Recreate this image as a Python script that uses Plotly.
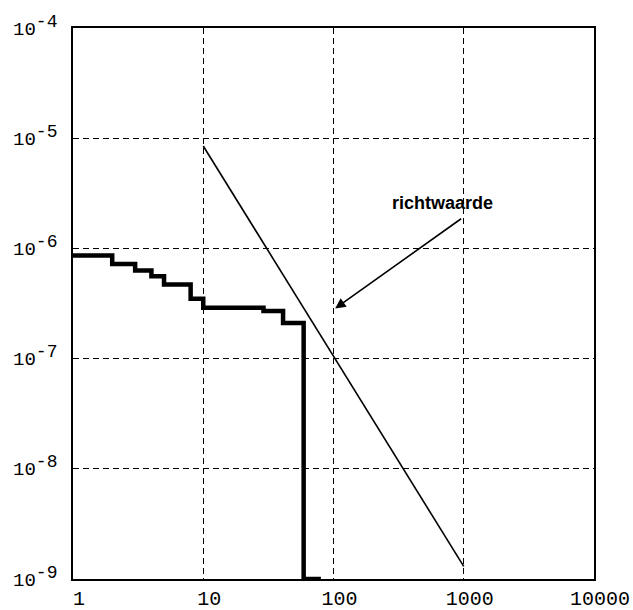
import math
import plotly.graph_objects as go

# FN curve (cumulative frequency F of N or more fatalities), step function
fn_n = [1, 2, 3, 4, 5, 8, 10, 29, 41, 59, 80]
fn_f = [8.6e-7, 7.2e-7, 6.3e-7, 5.6e-7, 4.7e-7, 3.5e-7, 2.9e-7, 2.7e-7, 2.1e-7, 1e-9, 1e-9]

# Guideline (richtwaarde) line
guide_n = [10, 1000]
guide_f = [8.5e-6, 1.3e-9]

x_ticks = [1, 10, 100, 1000, 10000]
x_labels = ["1", "10", "100", "1000", "10000"]
y_ticks = [1e-9, 1e-8, 1e-7, 1e-6, 1e-5, 1e-4]
y_exponents = ["-9", "-8", "-7", "-6", "-5", "-4"]
y_labels = ["10<sup><span style='font-size:18px'>%s</span></sup>" % e for e in y_exponents]

# Annotation: label position and arrow (tail -> head) in data units
label_text = "richtwaarde"
label_pos = (690, 2.6e-6)
arrow_tail = (980, 1.9e-6)
arrow_head = (103, 2.85e-7)

mono = "Liberation Mono"

fig = go.Figure()
fig.add_trace(go.Scatter(
    x=guide_n, y=guide_f, mode="lines",
    line=dict(color="black", width=1.6), showlegend=False, hoverinfo="skip"))
fig.add_trace(go.Scatter(
    x=fn_n, y=fn_f, mode="lines", line_shape="hv",
    line=dict(color="black", width=4.5), showlegend=False, hoverinfo="skip"))

fig.add_annotation(
    x=math.log10(label_pos[0]), y=math.log10(label_pos[1]),
    text="<b>" + label_text + "</b>", showarrow=False,
    font=dict(family="Liberation Sans", size=18, color="black"))
fig.add_annotation(
    x=math.log10(arrow_head[0]), y=math.log10(arrow_head[1]),
    ax=math.log10(arrow_tail[0]), ay=math.log10(arrow_tail[1]),
    axref="x", ayref="y", xref="x", yref="y", text="",
    showarrow=True, arrowhead=2, arrowsize=1.3, arrowwidth=1.6,
    arrowcolor="black")

axis_common = dict(
    type="log", showline=True, mirror=True, linecolor="black", linewidth=1.5,
    showgrid=True, gridcolor="black", gridwidth=1.2, griddash="6px,4px",
    ticks="", zeroline=False, automargin=False)

fig.update_xaxes(range=[0, 4], tickvals=x_ticks, ticktext=x_labels,
                 tickfont=dict(family=mono, size=20, color="black"),
                 ticklabelstandoff=0, ticklabelshift=6, **axis_common)
fig.update_yaxes(range=[-9, -4], tickvals=y_ticks, ticktext=y_labels,
                 tickfont=dict(family=mono, size=19, color="black"),
                 ticklabelstandoff=10, **axis_common)

fig.update_layout(
    width=633, height=610,
    margin=dict(l=73, r=39, t=28, b=31),
    paper_bgcolor="white", plot_bgcolor="white")

fig.write_html("out.html")
